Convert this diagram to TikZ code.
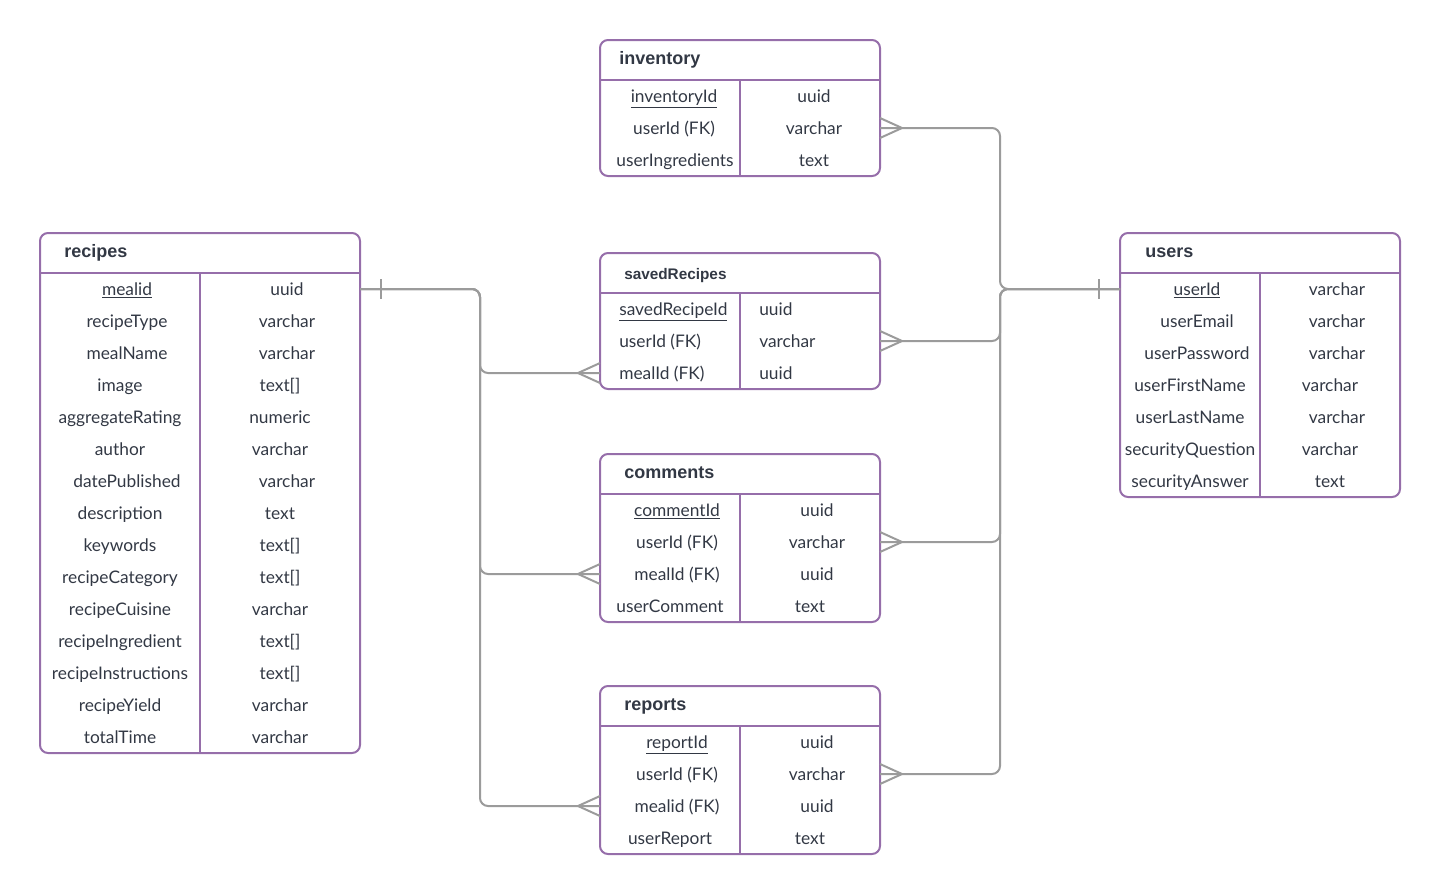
\documentclass[tikz,border=0pt]{standalone}
\usepackage{fontspec}
\setmainfont{Lato}
\newfontfamily\headfont{Liberation Sans}
\usepackage{tikz}

\definecolor{tablepurple}{RGB}{150,110,170}
\definecolor{linkgray}{RGB}{155,155,155}
\definecolor{textdark}{RGB}{50,56,68}

\begin{document}
\begin{tikzpicture}[x=0.75pt,y=0.75pt,yscale=-1,
  tablebox/.style={draw=tablepurple, line width=1.5pt, rounded corners=6pt, anchor=north west, inner sep=0pt, outer sep=0pt},
  tableline/.style={draw=tablepurple, line width=1.5pt},
  header/.style={anchor=west, inner sep=0pt, text=textdark, font=\headfont\bfseries\fontsize{13.5}{16}\selectfont, text height=13pt, text depth=3pt},
  field/.style={inner sep=0pt, text=textdark, font=\fontsize{13}{15}\selectfont, text height=12pt, text depth=3pt},
  link/.style={draw=linkgray, line width=1.5pt},
]
\useasboundingbox (0,0) rectangle (1440,894);

%Shape: Table inventory
\node[tablebox, minimum width=210pt, minimum height=102pt] (inventory) at (600,40) {};
\draw[tableline] (600,80) -- (880,80) (740,80) -- (740,176);
\node[header] (inventory-h) at (619,58) {inventory};
\foreach \y/\n/\nx/\t/\tx [count=\i] in {96/\underline{inventoryId}/674/uuid/814, 128/userId (FK)/674/varchar/814, 160/userIngredients/675/text/814}
{ \node[field] (inventory-\i) at (\nx,\y) {\n}; \node[field] (inventory-\i t) at (\tx,\y) {\t}; }

%Shape: Table savedRecipes
\node[tablebox, minimum width=210pt, minimum height=102pt] (savedRecipes) at (600,253) {};
\draw[tableline] (600,293) -- (880,293) (740,293) -- (740,389);
\node[header, font=\headfont\bfseries\fontsize{11.5}{14}\selectfont, text height=12pt] (savedRecipes-h) at (624,273) {savedRecipes};
\foreach \y/\n/\t [count=\i] in {309/\underline{savedRecipeId}/uuid, 341/userId (FK)/varchar, 373/mealId (FK)/uuid}
{ \node[field, anchor=west] (savedRecipes-\i) at (619,\y) {\n}; \node[field, anchor=west] (savedRecipes-\i t) at (759,\y) {\t}; }

%Shape: Table comments
\node[tablebox, minimum width=210pt, minimum height=126pt] (comments) at (600,454) {};
\draw[tableline] (600,494) -- (880,494) (740,494) -- (740,622);
\node[header] (comments-h) at (624,472) {comments};
\foreach \y/\n/\nx/\t/\tx [count=\i] in {510/\underline{commentId}/677/uuid/817, 542/userId (FK)/677/varchar/817, 574/mealId (FK)/677/uuid/817, 606/userComment/670/text/810}
{ \node[field] (comments-\i) at (\nx,\y) {\n}; \node[field] (comments-\i t) at (\tx,\y) {\t}; }

%Shape: Table reports
\node[tablebox, minimum width=210pt, minimum height=126pt] (reports) at (600,686) {};
\draw[tableline] (600,726) -- (880,726) (740,726) -- (740,854);
\node[header] (reports-h) at (624,704) {reports};
\foreach \y/\n/\nx/\t/\tx [count=\i] in {742/\underline{reportId}/677/uuid/817, 774/userId (FK)/677/varchar/817, 806/mealid (FK)/677/uuid/817, 838/userReport/670/text/810}
{ \node[field] (reports-\i) at (\nx,\y) {\n}; \node[field] (reports-\i t) at (\tx,\y) {\t}; }

%Shape: Table recipes
\node[tablebox, minimum width=240pt, minimum height=390pt] (recipes) at (40,233) {};
\draw[tableline] (40,273) -- (360,273) (200,273) -- (200,753);
\node[header] (recipes-h) at (64,251) {recipes};
\foreach \n/\nx/\t/\tx [count=\i] in {\underline{mealid}/127/uuid/287, recipeType/127/varchar/287, mealName/127/varchar/287, image/120/{text[]}/280, aggregateRating/120/numeric/280, author/120/varchar/280, datePublished/127/varchar/287, description/120/text/280, keywords/120/{text[]}/280, recipeCategory/120/{text[]}/280, recipeCuisine/120/varchar/280, recipeIngredient/120/{text[]}/280, recipeInstructions/120/{text[]}/280, recipeYield/120/varchar/280, totalTime/120/varchar/280}
{ \node[field] (recipes-\i) at (\nx,257+32*\i) {\n}; \node[field] (recipes-\i t) at (\tx,257+32*\i) {\t}; }

%Shape: Table users
\node[tablebox, minimum width=210pt, minimum height=198pt] (users) at (1120,233) {};
\draw[tableline] (1120,273) -- (1400,273) (1260,273) -- (1260,497);
\node[header] (users-h) at (1145,251) {users};
\foreach \n/\nx/\t/\tx [count=\i] in {\underline{userId}/1197/varchar/1337, userEmail/1197/varchar/1337, userPassword/1197/varchar/1337, userFirstName/1190/varchar/1330, userLastName/1190/varchar/1337, securityQuestion/1190/varchar/1330, securityAnswer/1190/text/1330}
{ \node[field] (users-\i) at (\nx,257+32*\i) {\n}; \node[field] (users-\i t) at (\tx,257+32*\i) {\t}; }

% Bus lines
\coordinate (lbus) at (480,0);
\coordinate (rbus) at (1000,0);

% recipes to savedRecipes, comments, reports
\draw[link, rounded corners=6pt] (recipes.east |- recipes-1) -| (lbus |- savedRecipes-3) -- (savedRecipes.west |- savedRecipes-3);
\draw[link, rounded corners=6pt] (recipes.east |- recipes-1) -| (lbus |- comments-3) -- (comments.west |- comments-3);
\draw[link, rounded corners=6pt] (recipes.east |- recipes-1) -| (lbus |- reports-3) -- (reports.west |- reports-3);
\draw[link] (recipes.east |- recipes-1) ++(21,-10) -- ++(0,20);
\foreach \t in {savedRecipes-3, comments-3, reports-3}
  \draw[link] (savedRecipes.west |- \t) ++(0,-10) -- ++(-22,10) -- ++(22,10);

% users to inventory, savedRecipes, comments, reports
\draw[link, rounded corners=6pt] (users.west |- users-1) -| (rbus |- inventory-2) -- (inventory.east |- inventory-2);
\draw[link, rounded corners=6pt] (users.west |- users-1) -| (rbus |- savedRecipes-2) -- (savedRecipes.east |- savedRecipes-2);
\draw[link, rounded corners=6pt] (users.west |- users-1) -| (rbus |- comments-2) -- (comments.east |- comments-2);
\draw[link, rounded corners=6pt] (users.west |- users-1) -| (rbus |- reports-2) -- (reports.east |- reports-2);
\draw[link] (users.west |- users-1) ++(-21,-10) -- ++(0,20);
\foreach \t in {inventory-2, savedRecipes-2, comments-2, reports-2}
  \draw[link] (inventory.east |- \t) ++(0,-10) -- ++(22,10) -- ++(-22,10);

\end{tikzpicture}
\end{document}
